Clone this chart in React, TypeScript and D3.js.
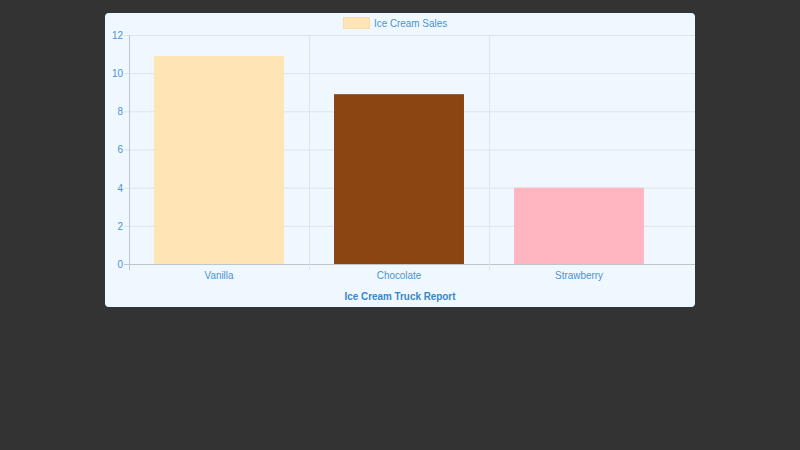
import React, { useRef, useEffect } from 'react';
import * as d3 from 'd3';

const categories = ['Vanilla', 'Chocolate', 'Strawberry'];
const sales = [10.9, 8.9, 4];
const barColors = ['#ffe4b5', '#8b4513', '#ffb6c1'];
const yTicks = [0, 2, 4, 6, 8, 10, 12];
const legendLabel = 'Ice Cream Sales';
const chartTitle = 'Ice Cream Truck Report';

const FONT = '"Liberation Sans", Arial, Helvetica, sans-serif';
const TEXT = '#4a92cf';
const FONT_SIZE = 11;
const SQUEEZE = 0.9; // the reference face runs a little narrower than Arial

function App() {
  const svgRef = useRef<SVGSVGElement | null>(null);

  useEffect(() => {
    const svg = d3.select(svgRef.current);
    svg.selectAll('*').remove();

    const place = (x: number, y: number) => `translate(${x},${y}) scale(${SQUEEZE},1)`;

    // card
    svg
      .append('rect')
      .attr('x', 105)
      .attr('y', 13)
      .attr('width', 590)
      .attr('height', 294)
      .attr('rx', 4)
      .attr('fill', '#f0f8ff');

    const left = 129;
    const top = 35;
    const bottom = 264;
    const gridRight = 695;

    const x = d3
      .scaleBand()
      .domain(categories)
      .range([left, left + 540])
      .paddingInner(0.278)
      .paddingOuter(0.139);
    const y = d3.scaleLinear().domain([0, 12]).range([bottom, top]);

    // horizontal grid
    svg
      .append('g')
      .selectAll('line')
      .data(yTicks)
      .join('line')
      .attr('x1', left - 5)
      .attr('x2', gridRight)
      .attr('y1', (d) => y(d) + 0.5)
      .attr('y2', (d) => y(d) + 0.5)
      .attr('stroke', (d) => (d === 0 ? '#bfc5cc' : '#dde4ec'))
      .attr('stroke-width', 1);

    // vertical grid between categories
    const step = x.step();
    const vLines = categories.map((_, i) => left + step * i);
    svg
      .append('g')
      .selectAll('line')
      .data(vLines)
      .join('line')
      .attr('x1', (d) => Math.round(d) + 0.5)
      .attr('x2', (d) => Math.round(d) + 0.5)
      .attr('y1', top)
      .attr('y2', bottom + 6)
      .attr('stroke', (d, i) => (i === 0 ? '#bfc5cc' : '#dde4ec'))
      .attr('stroke-width', 1);

    // bars
    svg
      .append('g')
      .selectAll('rect')
      .data(sales)
      .join('rect')
      .attr('x', (_, i) => x(categories[i]) as number)
      .attr('y', (d) => y(d))
      .attr('width', x.bandwidth())
      .attr('height', (d) => bottom - y(d))
      .attr('fill', (_, i) => barColors[i]);

    // y axis labels
    svg
      .append('g')
      .selectAll('text')
      .data(yTicks)
      .join('text')
      .attr('transform', (d) => place(left - 6, y(d)))
      .attr('dy', '0.35em')
      .attr('text-anchor', 'end')
      .attr('font-family', FONT)
      .attr('font-size', FONT_SIZE)
      .attr('fill', TEXT)
      .text((d) => d);

    // x axis labels
    svg
      .append('g')
      .selectAll('text')
      .data(categories)
      .join('text')
      .attr('transform', (d) => place((x(d) as number) + x.bandwidth() / 2, bottom + 15))
      .attr('text-anchor', 'middle')
      .attr('font-family', FONT)
      .attr('font-size', FONT_SIZE)
      .attr('fill', TEXT)
      .text((d) => d);

    // legend
    svg
      .append('rect')
      .attr('x', 343.5)
      .attr('y', 17.5)
      .attr('width', 26)
      .attr('height', 11)
      .attr('fill', barColors[0])
      .attr('stroke', '#f7dcaa');
    svg
      .append('text')
      .attr('transform', place(374, 27))
      .attr('font-family', FONT)
      .attr('font-size', FONT_SIZE)
      .attr('fill', TEXT)
      .text(legendLabel);

    // title
    svg
      .append('text')
      .attr('transform', place(400, 300))
      .attr('text-anchor', 'middle')
      .attr('font-family', FONT)
      .attr('font-size', FONT_SIZE)
      .attr('font-weight', 'bold')
      .attr('fill', '#3587cb')
      .text(chartTitle);
  }, []);

  return (
    <div style={{ position: 'fixed', inset: 0, background: '#333333' }}>
      <svg ref={svgRef} width={800} height={450} style={{ display: 'block' }}></svg>
    </div>
  );
}

export default App;
